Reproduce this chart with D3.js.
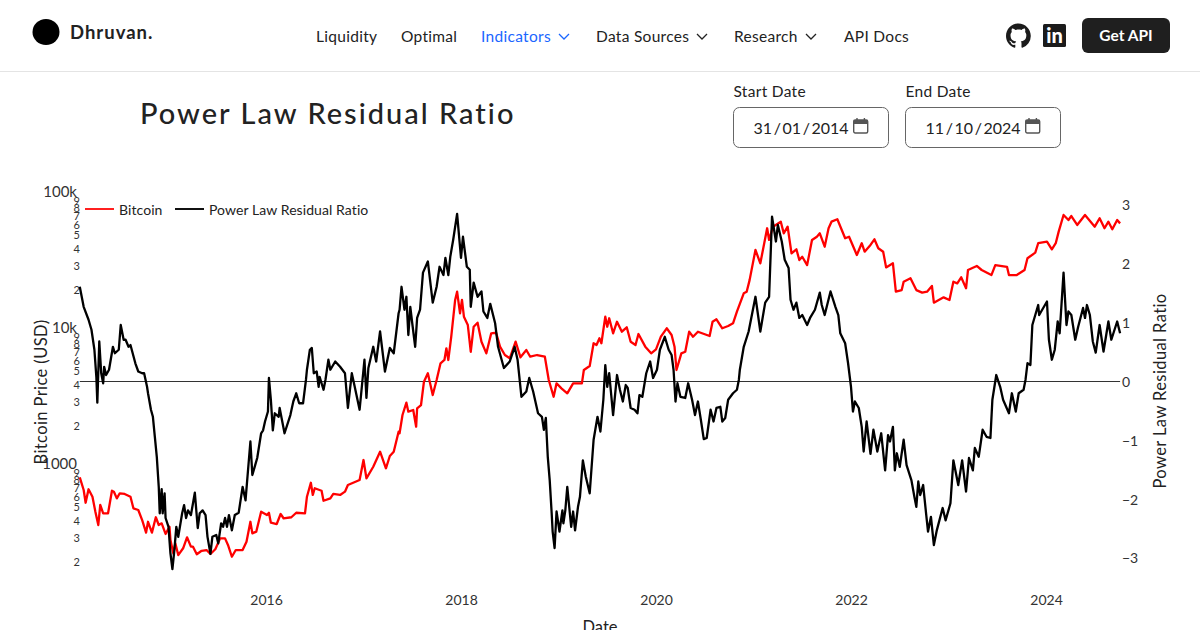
<!doctype html>
<html>

<head>
	<meta charset="utf-8">
	<style>
		html, body { margin: 0; padding: 0; background: #fff; overflow: hidden; }
		svg { display: block; }
		text { font-family: "Lato", sans-serif; fill: #222; }
		.domain { display: none; }
	</style>
</head>

<body>
	<div class="chart"></div>

	<script src="https://d3js.org/d3.v7.min.js"></script>
	<script>
		// residual ratio
		let ratioYears = [
			2014.09, 2014.13, 2014.18, 2014.21, 2014.24, 2014.26, 2014.27, 2014.29, 2014.31, 2014.33, 2014.34, 2014.36,
			2014.39, 2014.43, 2014.45, 2014.49, 2014.51, 2014.54, 2014.56, 2014.59, 2014.61, 2014.66, 2014.69, 2014.73,
			2014.75, 2014.78, 2014.79, 2014.82, 2014.84, 2014.86, 2014.88, 2014.90, 2014.91, 2014.93, 2014.94, 2014.96,
			2014.97, 2015.00, 2015.02, 2015.04, 2015.06, 2015.08, 2015.10, 2015.14, 2015.16, 2015.18, 2015.20, 2015.23,
			2015.27, 2015.30, 2015.32, 2015.35, 2015.38, 2015.40, 2015.43, 2015.45, 2015.49, 2015.51, 2015.54, 2015.56,
			2015.58, 2015.60, 2015.62, 2015.65, 2015.68, 2015.72, 2015.76, 2015.79, 2015.84, 2015.86, 2015.91, 2015.95,
			2015.97, 2015.99, 2016.02, 2016.03, 2016.05, 2016.07, 2016.09, 2016.13, 2016.14, 2016.19, 2016.25, 2016.28,
			2016.31, 2016.34, 2016.38, 2016.41, 2016.42, 2016.45, 2016.47, 2016.49, 2016.52, 2016.54, 2016.55, 2016.59,
			2016.61, 2016.64, 2016.66, 2016.71, 2016.76, 2016.81, 2016.84, 2016.88, 2016.91, 2016.96, 2017.01, 2017.03,
			2017.05, 2017.10, 2017.13, 2017.17, 2017.22, 2017.27, 2017.31, 2017.36, 2017.37, 2017.39, 2017.42, 2017.44,
			2017.46, 2017.48, 2017.50, 2017.53, 2017.55, 2017.58, 2017.61, 2017.66, 2017.71, 2017.75, 2017.78, 2017.82,
			2017.84, 2017.87, 2017.89, 2017.92, 2017.96, 2018.00, 2018.02, 2018.06, 2018.09, 2018.10, 2018.13, 2018.17,
			2018.21, 2018.23, 2018.27, 2018.30, 2018.35, 2018.38, 2018.44, 2018.50, 2018.55, 2018.58, 2018.62, 2018.67,
			2018.70, 2018.74, 2018.79, 2018.83, 2018.85, 2018.87, 2018.89, 2018.91, 2018.93, 2018.94, 2018.96, 2018.98,
			2019.01, 2019.04, 2019.05, 2019.07, 2019.09, 2019.13, 2019.15, 2019.17, 2019.20, 2019.22, 2019.25, 2019.28,
			2019.32, 2019.36, 2019.40, 2019.43, 2019.46, 2019.48, 2019.50, 2019.52, 2019.56, 2019.60, 2019.63, 2019.66,
			2019.69, 2019.71, 2019.74, 2019.78, 2019.81, 2019.83, 2019.86, 2019.90, 2019.94, 2019.97, 2020.01, 2020.04,
			2020.09, 2020.13, 2020.16, 2020.18, 2020.20, 2020.22, 2020.25, 2020.30, 2020.33, 2020.37, 2020.40, 2020.43,
			2020.46, 2020.49, 2020.52, 2020.56, 2020.59, 2020.62, 2020.66, 2020.68, 2020.71, 2020.74, 2020.79, 2020.83,
			2020.85, 2020.86, 2020.90, 2020.95, 2021.02, 2021.07, 2021.12, 2021.16, 2021.19, 2021.23, 2021.25, 2021.29,
			2021.32, 2021.36, 2021.38, 2021.41, 2021.44, 2021.47, 2021.50, 2021.55, 2021.58, 2021.63, 2021.68, 2021.70,
			2021.73, 2021.79, 2021.84, 2021.87, 2021.89, 2021.94, 2021.97, 2022.00, 2022.02, 2022.04, 2022.08, 2022.11,
			2022.13, 2022.16, 2022.20, 2022.23, 2022.27, 2022.31, 2022.35, 2022.38, 2022.40, 2022.43, 2022.45, 2022.47,
			2022.50, 2022.54, 2022.57, 2022.62, 2022.65, 2022.67, 2022.69, 2022.71, 2022.74, 2022.77, 2022.79, 2022.82,
			2022.85, 2022.88, 2022.94, 2022.97, 2023.02, 2023.05, 2023.10, 2023.14, 2023.18, 2023.21, 2023.25, 2023.27,
			2023.31, 2023.35, 2023.39, 2023.43, 2023.45, 2023.49, 2023.53, 2023.56, 2023.62, 2023.65, 2023.69, 2023.72,
			2023.77, 2023.79, 2023.81, 2023.84, 2023.86, 2023.92, 2023.93, 2024.01, 2024.03, 2024.06, 2024.09, 2024.12,
			2024.14, 2024.18, 2024.21, 2024.23, 2024.26, 2024.30, 2024.33, 2024.38, 2024.40, 2024.42, 2024.45, 2024.48,
			2024.51, 2024.55, 2024.59, 2024.64, 2024.67, 2024.73, 2024.76
		];
		let ratioValues = [
			1.61, 1.27, 1.05, 0.88, 0.54, 0.08, -0.36, 0.68, 0.14, -0.03, 0.25, 0.11,
			0.20, 0.59, 0.48, 0.54, 0.96, 0.71, 0.71, 0.59, 0.62, 0.31, 0.17, 0.14,
			0.14, -0.09, -0.20, -0.48, -0.60, -0.94, -1.28, -1.79, -2.24, -1.83, -2.24, -1.90,
			-2.32, -2.47, -2.92, -3.19, -2.87, -2.47, -2.64, -2.24, -2.10, -2.32, -2.19, -2.27,
			-1.89, -2.49, -2.24, -2.19, -2.27, -2.64, -2.93, -2.64, -2.61, -2.75, -2.41, -2.47,
			-2.32, -2.47, -2.27, -2.53, -2.27, -2.23, -1.79, -2.02, -1.02, -1.59, -1.30, -0.88,
			-0.83, -0.68, -0.51, 0.06, -0.31, -0.83, -0.54, -0.60, -0.45, -0.88, -0.57, -0.34,
			-0.20, -0.37, -0.37, 0.03, 0.20, 0.54, 0.57, 0.14, 0.17, -0.09, 0.08, -0.14,
			0.03, 0.37, 0.20, 0.34, 0.25, 0.14, -0.45, 0.14, -0.09, -0.48, 0.37, -0.28,
			0.23, 0.59, 0.34, 0.85, 0.17, 0.57, 0.48, 1.16, 1.22, 1.61, 1.22, 1.44,
			0.79, 1.27, 0.99, 0.59, 1.08, 1.22, 1.85, 2.04, 1.34, 1.61, 1.95, 1.81,
			2.10, 1.81, 2.12, 2.41, 2.85, 2.10, 2.46, 1.95, 1.90, 1.27, 1.68, 1.44,
			1.53, 1.19, 1.08, 1.32, 0.99, 0.59, 0.23, 0.34, 0.59, 0.37, -0.26, -0.17,
			0.06, -0.17, -0.54, -0.60, -0.82, -0.62, -1.28, -1.68, -2.24, -2.55, -2.83, -2.21,
			-2.55, -2.19, -2.41, -2.19, -1.79, -2.47, -2.21, -2.53, -2.13, -1.96, -1.34, -1.62,
			-1.90, -0.99, -0.60, -0.85, -0.31, 0.28, -0.09, 0.14, -0.57, 0.11, -0.14, -0.34,
			-0.06, -0.11, -0.45, -0.48, -0.54, -0.23, -0.26, 0.14, 0.34, 0.06, 0.20, 0.54,
			0.76, 0.54, 0.45, 0.20, -0.34, -0.03, -0.26, -0.28, -0.03, -0.31, -0.57, -0.34,
			-0.65, -0.98, -0.96, -0.48, -0.68, -0.45, -0.43, -0.68, -0.62, -0.31, -0.20, -0.14,
			0.03, 0.20, 0.59, 0.85, 1.44, 0.85, 1.34, 1.44, 2.80, 2.38, 2.66, 2.38,
			2.07, 1.93, 1.39, 1.22, 1.34, 1.08, 1.13, 0.96, 1.08, 1.22, 1.51, 1.30,
			1.13, 1.53, 1.27, 1.13, 0.82, 0.65, 0.31, -0.09, -0.51, -0.34, -0.45, -0.77,
			-1.19, -0.68, -1.23, -0.82, -1.19, -0.88, -1.51, -0.91, -1.02, -0.77, -1.51, -1.22,
			-1.45, -0.99, -1.42, -1.68, -1.96, -2.13, -1.70, -1.93, -1.76, -2.24, -2.55, -2.30,
			-2.78, -2.53, -2.15, -2.36, -2.07, -1.34, -1.76, -1.34, -1.87, -1.30, -1.51, -1.13,
			-1.28, -0.82, -0.94, -0.96, -0.31, 0.11, -0.09, -0.31, -0.54, -0.20, -0.51, -0.20,
			-0.14, 0.03, 0.31, 0.28, 0.96, 1.30, 1.13, 1.36, 0.71, 0.37, 0.54, 1.02,
			0.82, 1.85, 0.96, 1.19, 1.13, 0.71, 0.93, 1.25, 1.08, 1.30, 1.13, 0.68,
			0.49, 0.96, 0.51, 1.02, 0.71, 1.02, 0.82
		];

		// bitcoin price in USD
		let priceYears = [
			2014.09, 2014.13, 2014.15, 2014.18, 2014.22, 2014.25, 2014.28, 2014.30, 2014.33, 2014.38, 2014.42, 2014.44,
			2014.47, 2014.50, 2014.55, 2014.61, 2014.64, 2014.69, 2014.73, 2014.77, 2014.79, 2014.83, 2014.87, 2014.90,
			2014.93, 2014.97, 2015.01, 2015.02, 2015.05, 2015.07, 2015.10, 2015.15, 2015.19, 2015.23, 2015.25, 2015.29,
			2015.34, 2015.39, 2015.43, 2015.48, 2015.53, 2015.58, 2015.61, 2015.65, 2015.69, 2015.76, 2015.80, 2015.84,
			2015.86, 2015.90, 2015.95, 2016.01, 2016.03, 2016.05, 2016.11, 2016.15, 2016.18, 2016.26, 2016.31, 2016.40,
			2016.42, 2016.46, 2016.48, 2016.50, 2016.57, 2016.59, 2016.66, 2016.69, 2016.76, 2016.81, 2016.84, 2016.96,
			2017.00, 2017.03, 2017.10, 2017.17, 2017.23, 2017.27, 2017.31, 2017.36, 2017.37, 2017.40, 2017.44, 2017.46,
			2017.51, 2017.54, 2017.55, 2017.59, 2017.62, 2017.66, 2017.71, 2017.75, 2017.79, 2017.83, 2017.85, 2017.87,
			2017.90, 2017.94, 2017.96, 2017.99, 2018.01, 2018.03, 2018.07, 2018.10, 2018.13, 2018.17, 2018.21, 2018.26,
			2018.31, 2018.36, 2018.40, 2018.45, 2018.50, 2018.56, 2018.61, 2018.67, 2018.71, 2018.78, 2018.86, 2018.90,
			2018.95, 2018.98, 2019.03, 2019.09, 2019.15, 2019.24, 2019.26, 2019.32, 2019.36, 2019.39, 2019.42, 2019.44,
			2019.48, 2019.50, 2019.52, 2019.56, 2019.60, 2019.65, 2019.70, 2019.74, 2019.79, 2019.82, 2019.89, 2019.95,
			2020.00, 2020.05, 2020.11, 2020.16, 2020.19, 2020.21, 2020.26, 2020.30, 2020.34, 2020.38, 2020.43, 2020.55,
			2020.58, 2020.62, 2020.68, 2020.74, 2020.79, 2020.83, 2020.90, 2020.93, 2020.96, 2021.02, 2021.07, 2021.14,
			2021.16, 2021.20, 2021.28, 2021.31, 2021.35, 2021.39, 2021.44, 2021.47, 2021.50, 2021.55, 2021.60, 2021.65,
			2021.68, 2021.73, 2021.77, 2021.80, 2021.86, 2021.94, 2021.98, 2022.06, 2022.11, 2022.14, 2022.20, 2022.24,
			2022.28, 2022.33, 2022.36, 2022.43, 2022.46, 2022.52, 2022.54, 2022.61, 2022.67, 2022.73, 2022.78, 2022.83,
			2022.85, 2022.95, 2023.01, 2023.05, 2023.09, 2023.13, 2023.18, 2023.20, 2023.29, 2023.34, 2023.44, 2023.48,
			2023.60, 2023.62, 2023.70, 2023.78, 2023.81, 2023.89, 2023.92, 2024.01, 2024.06, 2024.10, 2024.13, 2024.18,
			2024.23, 2024.26, 2024.32, 2024.40, 2024.50, 2024.55, 2024.60, 2024.64, 2024.68, 2024.73, 2024.76
		];
		let priceValues = [
			798, 644, 519, 652, 575, 446, 356, 500, 434, 434, 636, 626,
			559, 609, 602, 575, 472, 459, 387, 313, 376, 313, 406, 356,
			366, 306, 346, 276, 220, 261, 214, 240, 289, 247, 247, 217,
			230, 233, 218, 236, 284, 284, 254, 208, 233, 233, 268, 376,
			309, 318, 446, 422, 438, 370, 362, 429, 399, 406, 438, 434,
			575, 728, 592, 663, 636, 537, 559, 602, 592, 626, 701, 763,
			1070, 785, 955, 1231, 930, 1145, 1231, 1728, 1682, 2293, 2823, 2424,
			2495, 1881, 2568, 2715, 4030, 4645, 3216, 4146, 5500, 5820, 7090, 5820,
			8630, 16070, 18490, 12820, 16070, 12110, 10520, 6690, 10220, 10940, 7930, 6510,
			9140, 9230, 7290, 6330, 5990, 7930, 6090, 6890, 6150, 6330, 6150, 4146,
			3125, 3920, 3600, 3310, 3920, 3920, 4910, 5250, 7720, 7500, 8400, 7720,
			12110, 10220, 11790, 9140, 11120, 9390, 10120, 7930, 7500, 9030, 7290, 6510,
			6970, 8630, 9950, 8880, 7290, 4910, 6510, 6690, 9390, 8630, 9390, 8730,
			11120, 11590, 9950, 10340, 10830, 13180, 18000, 18490, 22500, 37500, 29900, 54100,
			44400, 55600, 60500, 49700, 55600, 35400, 37900, 31600, 33400, 29000, 44400, 46900,
			49700, 39600, 54100, 60500, 63000, 45700, 46900, 34400, 42000, 36400, 40800, 44900,
			38600, 36400, 27900, 29900, 18490, 19000, 21900, 23200, 19000, 18200, 18490, 20400,
			15350, 16800, 16070, 21900, 21300, 23600, 19600, 26700, 28600, 26700, 24500, 29000,
			28200, 24500, 24500, 26700, 32600, 35800, 42000, 43100, 37900, 42000, 51100, 67800,
			62200, 66600, 57200, 67800, 55600, 64100, 54100, 60500, 53200, 62200, 58800
		];

		// axis ticks
		let yearTicks = [2016, 2018, 2020, 2022, 2024];
		let priceMajorTicks = [1000, 10000, 100000];
		let priceMinorTicks = [
			200, 300, 400, 500, 600, 700, 800, 900,
			2000, 3000, 4000, 5000, 6000, 7000, 8000, 9000,
			20000, 30000, 40000, 50000, 60000, 70000, 80000, 90000
		];
		let ratioTicks = [-3, -2, -1, 0, 1, 2, 3];

		// page chrome texts
		let navItems = ["Liquidity", "Optimal", "Indicators", "Data Sources", "Research", "API Docs"];
		let navX = [316, 401, 481, 596, 734, 844];
		let navChevronX = [null, null, 564, 702, 811, null];
		let seriesNames = ["Bitcoin", "Power Law Residual Ratio"];

		let ratioSeries = ratioYears.map((d, i) => ({ x: d, y: ratioValues[i] }));
		let priceSeries = priceYears.map((d, i) => ({ x: d, y: priceValues[i] }));

		let svg = d3.select(".chart")
			.append("svg")
			.attr("width", 1200)
			.attr("height", 630);

		// header
		svg.append("ellipse").attr("cx", 46).attr("cy", 32).attr("rx", 13.5).attr("ry", 13).attr("fill", "#000");
		svg.append("text").attr("x", 70).attr("y", 39)
			.style("font-size", "18.5px").style("font-weight", 700).style("letter-spacing", "1px")
			.text("Dhruvan.");

		navItems.forEach((name, i) => {
			svg.append("text").attr("x", navX[i]).attr("y", 41.5)
				.style("font-size", "15.5px").style("letter-spacing", "0.3px")
				.style("fill", name == "Indicators" ? "#1a66ff" : "#222")
				.text(name);
			if (navChevronX[i]) {
				let cx = navChevronX[i];
				svg.append("path")
					.attr("d", "M" + (cx - 5) + ",34 L" + cx + ",39 L" + (cx + 5) + ",34")
					.attr("fill", "none")
					.attr("stroke", name == "Indicators" ? "#1a66ff" : "#222")
					.attr("stroke-width", 1.3);
			}
		});

		svg.append("path")
			.attr("transform", "translate(1006,23.5) scale(1.55)")
			.attr("fill", "#1b1b1b")
			.attr("d", "M8 0C3.58 0 0 3.58 0 8c0 3.54 2.29 6.53 5.47 7.59.4.07.55-.17.55-.38 0-.19-.01-.82-.01-1.49-2.01.37-2.53-.49-2.69-.94-.09-.23-.48-.94-.82-1.13-.28-.15-.68-.52-.01-.53.63-.01 1.08.58 1.23.82.72 1.21 1.87.87 2.33.66.07-.52.28-.87.51-1.07-1.78-.2-3.64-.89-3.64-3.95 0-.87.31-1.59.82-2.15-.08-.2-.36-1.02.08-2.12 0 0 .67-.21 2.2.82.64-.18 1.32-.27 2-.27.68 0 1.36.09 2 .27 1.53-1.04 2.2-.82 2.2-.82.44 1.1.16 1.92.08 2.12.51.56.82 1.27.82 2.15 0 3.07-1.87 3.75-3.65 3.95.29.25.54.73.54 1.48 0 1.07-.01 1.93-.01 2.2 0 .21.15.46.55.38A8.013 8.013 0 0016 8c0-4.42-3.58-8-8-8z");
		svg.append("rect").attr("x", 1043).attr("y", 24).attr("width", 23).attr("height", 23).attr("rx", 1.5).attr("fill", "#1b1b1b");
		svg.append("text").attr("x", 1054.5).attr("y", 43).attr("text-anchor", "middle")
			.style("font-size", "20px").style("font-weight", 900).style("fill", "#fff").text("in");

		svg.append("rect").attr("x", 1082).attr("y", 18).attr("width", 88).attr("height", 35).attr("rx", 6).attr("fill", "#1f1f1f");
		svg.append("text").attr("x", 1126).attr("y", 41).attr("text-anchor", "middle")
			.style("font-size", "15.5px").style("font-weight", 700).style("fill", "#fff").text("Get API");

		svg.append("line").attr("x1", 0).attr("x2", 1200).attr("y1", 71.5).attr("y2", 71.5).attr("stroke", "#e4e4e4");

		svg.append("text").attr("x", 140).attr("y", 124)
			.style("font-size", "29px").style("font-weight", 500).style("letter-spacing", "2px")
			.text("Power Law Residual Ratio");

		// date inputs
		[["Start Date", "31 / 01 / 2014", 733.5], ["End Date", "11 / 10 / 2024", 905.5]].forEach(d => {
			svg.append("text").attr("x", d[2]).attr("y", 96.5)
				.style("font-size", "15.5px").style("letter-spacing", "0.3px").text(d[0]);
			svg.append("rect").attr("x", d[2]).attr("y", 107.5).attr("width", 155).attr("height", 40).attr("rx", 6)
				.attr("fill", "#fff").attr("stroke", "#666");
			svg.append("text").attr("x", d[2] + 20).attr("y", 133.5)
				.style("font-size", "16px").style("word-spacing", "-2.5px").text(d[1]);
			let g = svg.append("g").attr("transform", "translate(" + (d[2] + 119.5) + ",118)");
			g.append("rect").attr("x", 0.7).attr("y", 2).attr("width", 14).attr("height", 13).attr("rx", 1.5)
				.attr("fill", "none").attr("stroke", "#555").attr("stroke-width", 1.4);
			g.append("rect").attr("x", 0.7).attr("y", 2).attr("width", 14).attr("height", 4).attr("fill", "#555");
			g.append("path").attr("d", "M4,0V3M11.4,0V3").attr("stroke", "#555").attr("stroke-width", 1.4);
		});

		// scales
		let scaleX = d3.scaleLinear().domain([2014, 2025]).range([71, 1143.5]);
		let scalePrice = d3.scaleLog().domain([1000, 100000]).range([464, 192]);
		let scaleRatio = d3.scaleLinear().domain([3, -3]).range([205, 558]);

		let priceLabel = v => v == 100000 ? "100k" : v == 10000 ? "10k" : v == 1000 ? "1000" : String(v).charAt(0);

		let xAxis = d3.axisBottom(scaleX).tickValues(yearTicks).tickFormat(d3.format("d")).tickSize(0).tickPadding(0);
		svg.append("g").attr("transform", "translate(0,595)").call(xAxis)
			.selectAll("text").style("font-size", "14px").style("fill", "#333");

		let priceAxisMajor = d3.axisLeft(scalePrice).tickValues(priceMajorTicks).tickFormat(priceLabel).tickSize(0).tickPadding(0);
		svg.append("g").attr("transform", "translate(77,0)").call(priceAxisMajor)
			.selectAll("text").style("font-size", "15px").style("fill", "#333");

		let priceAxisMinor = d3.axisLeft(scalePrice).tickValues(priceMinorTicks).tickFormat(priceLabel).tickSize(0).tickPadding(0);
		svg.append("g").attr("transform", "translate(80,2.5)").call(priceAxisMinor)
			.selectAll("text").style("font-size", "11px").style("fill", "#333");

		let ratioAxis = d3.axisRight(scaleRatio).tickValues(ratioTicks).tickFormat(d => d < 0 ? "\u2212" + (-d) : d).tickSize(0).tickPadding(0);
		svg.append("g").attr("transform", "translate(1122,0.5)").call(ratioAxis)
			.selectAll("text").style("font-size", "14px").style("fill", "#333");

		// axis titles
		svg.append("text").attr("transform", "translate(47,392) rotate(-90)").attr("text-anchor", "middle")
			.style("font-size", "16.5px").style("letter-spacing", "0.4px").text("Bitcoin Price (USD)");
		svg.append("text").attr("transform", "translate(1166,391) rotate(-90)").attr("text-anchor", "middle")
			.style("font-size", "16.5px").style("letter-spacing", "0.4px").text("Power Law Residual Ratio");
		svg.append("text").attr("x", 600).attr("y", 633).attr("text-anchor", "middle")
			.style("font-size", "16.5px").text("Date");

		// zero line of the ratio axis
		svg.append("line")
			.attr("x1", scaleX(ratioYears[0])).attr("x2", scaleX(ratioYears[ratioYears.length - 1]))
			.attr("y1", scaleRatio(0)).attr("y2", scaleRatio(0))
			.attr("stroke", "#333").attr("stroke-width", 1);

		let linePrice = d3.line().x(d => scaleX(d.x)).y(d => scalePrice(d.y));
		let lineRatio = d3.line().x(d => scaleX(d.x)).y(d => scaleRatio(d.y));

		svg.append("path").attr("d", linePrice(priceSeries))
			.attr("fill", "none").attr("stroke", "#ff0000").attr("stroke-width", 2.3).attr("stroke-linejoin", "round");
		svg.append("path").attr("d", lineRatio(ratioSeries))
			.attr("fill", "none").attr("stroke", "#000").attr("stroke-width", 2.3).attr("stroke-linejoin", "round");

		// legend
		let legendX = [85, 175];
		let legendColors = ["#ff2020", "#111"];
		seriesNames.forEach((name, i) => {
			svg.append("line").attr("x1", legendX[i]).attr("x2", legendX[i] + 29).attr("y1", 209).attr("y2", 209)
				.attr("stroke", legendColors[i]).attr("stroke-width", 2);
			svg.append("text").attr("x", legendX[i] + 34).attr("y", 214.5)
				.style("font-size", "14px").style("letter-spacing", "0.08px").text(name);
		});
	</script>

</body>

</html>
